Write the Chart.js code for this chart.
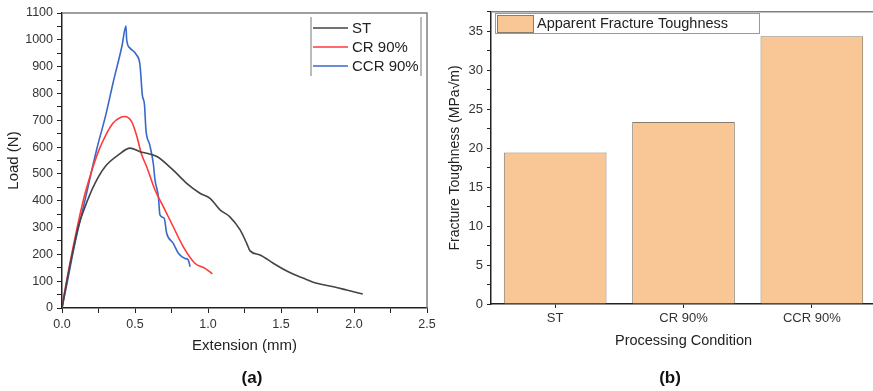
<!DOCTYPE html>
<html>
<head>
<meta charset="utf-8">
<script src="https://cdn.jsdelivr.net/npm/chart.js@4.4.1/dist/chart.umd.min.js"></script>
<style>
	html, body { margin: 0; padding: 0; background: #fff; }
	body { width: 873px; height: 391px; overflow: hidden; position: relative; font-family: "Liberation Sans", Arial, sans-serif; }
	.panel { position: absolute; top: 0; }
	.tag { position: absolute; transform: translate(-50%, -50%); font: bold 17px "Liberation Sans", Arial, sans-serif; color: #111; }
</style>
</head>
<body>
<div class="panel" style="left:0"><canvas id="chart-a" width="440" height="391"></canvas></div>
<div class="panel" style="left:440px"><canvas id="chart-b" width="438" height="391"></canvas></div>
<div class="tag" style="left:252px;top:378px">(a)</div>
<div class="tag" style="left:670px;top:378px">(b)</div>
<script>
// (a) load vs extension
const stExt   = [0, 0.03, 0.07, 0.112, 0.158, 0.226, 0.295, 0.386, 0.466, 0.534, 0.58, 0.65, 0.76, 0.854, 0.945, 1.014, 1.082, 1.15, 1.22, 1.265, 1.288, 1.356, 1.447, 1.55, 1.65, 1.745, 1.86, 1.95, 2.06];
const stLoad  = [0, 90, 200, 303, 378, 465, 527, 571, 596, 583, 577, 565, 515, 465, 428, 409, 366, 340, 291, 241, 213, 198, 167, 135, 112, 92, 79, 67, 52];
const crExt   = [0, 0.02, 0.10, 0.15, 0.20, 0.25, 0.30, 0.35, 0.40, 0.43, 0.477, 0.51, 0.546, 0.58, 0.637, 0.694, 0.762, 0.83, 0.91, 0.98, 1.03];
const crLoad  = [0, 67, 290, 410, 505, 585, 645, 690, 710, 714, 695, 645, 571, 527, 440, 378, 303, 229, 167, 148, 127];
const ccrExt  = [0, 0.03, 0.089, 0.158, 0.237, 0.30, 0.35, 0.41, 0.438, 0.443, 0.466, 0.51, 0.534, 0.55, 0.565, 0.575, 0.60, 0.625, 0.637, 0.66, 0.671, 0.70, 0.717, 0.762, 0.797, 0.842, 0.865, 0.877];
const ccrLoad = [0, 80, 242, 403, 590, 720, 840, 975, 1051, 1000, 969, 944, 907, 795, 757, 664, 610, 540, 478, 415, 347, 335, 279, 241, 204, 185, 179, 154];
const seriesNames  = ['ST', 'CR 90%', 'CCR 90%'];
const seriesColors = ['#444444', '#ff3a3a', '#3a68c8'];

// (b) apparent fracture toughness
const conditions = ['ST', 'CR 90%', 'CCR 90%'];
const toughness  = [19.45, 23.35, 34.35];

const FONT = '"Liberation Sans", Arial, sans-serif';
const TXT = '#333';

function pts(xs, ys){
	return xs.map(function(x, i){ return { x: x, y: ys[i] }; });
}

/** top + right frame of the plot box **/
const framePlugin = {
	id: 'frame',
	afterDatasetsDraw: function(chart){
		const a = chart.chartArea, ctx = chart.ctx;
		ctx.save();
		ctx.strokeStyle = '#808080';
		ctx.lineWidth = 1.5;
		ctx.beginPath();
		ctx.moveTo(a.left, a.top);
		ctx.lineTo(a.right, a.top);
		ctx.lineTo(a.right, a.bottom);
		ctx.stroke();
		ctx.restore();
	}
};

/** legend of (a), drawn inside the plot **/
const lineLegend = {
	id: 'lineLegend',
	afterDraw: function(chart){
		const ctx = chart.ctx;
		ctx.save();
		ctx.strokeStyle = '#777';
		ctx.lineWidth = 1;
		ctx.beginPath();
		ctx.moveTo(311, 17); ctx.lineTo(311, 76);
		ctx.moveTo(421, 17); ctx.lineTo(421, 76);
		ctx.stroke();
		ctx.font = '15px ' + FONT;
		ctx.textBaseline = 'middle';
		chart.data.datasets.forEach(function(ds, i){
			const y = 28 + i * 19;
			ctx.strokeStyle = ds.borderColor;
			ctx.lineWidth = 1.5;
			ctx.beginPath();
			ctx.moveTo(313, y); ctx.lineTo(348, y);
			ctx.stroke();
			ctx.fillStyle = '#222';
			ctx.fillText(ds.label, 352, y + 1);
		});
		ctx.restore();
	}
};

/** legend of (b) **/
const barLegend = {
	id: 'barLegend',
	afterDraw: function(chart){
		const ctx = chart.ctx, ds = chart.data.datasets[0];
		ctx.save();
		ctx.fillStyle = '#fff';
		ctx.fillRect(55, 13, 264, 20);
		ctx.strokeStyle = '#999';
		ctx.lineWidth = 1;
		ctx.strokeRect(55.5, 13.5, 264, 20);
		ctx.fillStyle = ds.backgroundColor;
		ctx.fillRect(57, 15, 36, 17);
		ctx.strokeStyle = ds.borderColor;
		ctx.strokeRect(57.5, 15.5, 36, 17);
		ctx.fillStyle = '#222';
		ctx.font = '14.5px ' + FONT;
		ctx.textBaseline = 'middle';
		ctx.fillText(ds.label, 97, 24);
		ctx.restore();
	}
};

new Chart(document.getElementById('chart-a'), {
	type: 'line',
	data: {
		datasets: [
			{ label: seriesNames[0], data: pts(stExt, stLoad), borderColor: seriesColors[0] },
			{ label: seriesNames[1], data: pts(crExt, crLoad), borderColor: seriesColors[1] },
			{ label: seriesNames[2], data: pts(ccrExt, ccrLoad), borderColor: seriesColors[2] }
		]
	},
	options: {
		responsive: false,
		animation: false,
		layout: { padding: { left: 5, top: 13, right: 13, bottom: 36 } },
		elements: { point: { radius: 0 }, line: { borderWidth: 1.6, cubicInterpolationMode: 'monotone' } },
		plugins: { legend: { display: false }, tooltip: { enabled: false } },
		scales: {
			x: {
				type: 'linear', min: 0, max: 2.5,
				afterFit: function(s){ s.height = 47; },
				border: { color: '#222', width: 1.5 },
				grid: { drawOnChartArea: false, tickLength: 5, color: '#222' },
				ticks: {
					stepSize: 0.25, padding: 4, color: TXT, font: { family: FONT, size: 12.5 },
					maxRotation: 0, autoSkip: false,
					callback: function(v){ return Math.abs(v * 2 - Math.round(v * 2)) < 1e-6 ? v.toFixed(1) : ''; }
				},
				title: { display: true, text: 'Extension (mm)', color: '#222', font: { family: FONT, size: 15 }, padding: { top: 0, bottom: 0 } }
			},
			y: {
				min: 0, max: 1100,
				afterFit: function(s){ s.width = 57; },
				border: { color: '#222', width: 1.5 },
				grid: { drawOnChartArea: false, tickLength: 5, color: '#222' },
				ticks: {
					stepSize: 50, padding: 4, color: TXT, font: { family: FONT, size: 12.5 }, autoSkip: false,
					callback: function(v){ return v % 100 === 0 ? String(v) : ''; }
				},
				title: { display: true, text: 'Load (N)', color: '#222', font: { family: FONT, size: 15 }, padding: { top: 0, bottom: 0 } }
			}
		}
	},
	plugins: [framePlugin, lineLegend]
});

new Chart(document.getElementById('chart-b'), {
	type: 'bar',
	data: {
		labels: conditions,
		datasets: [{
			label: 'Apparent Fracture Toughness',
			data: toughness,
			backgroundColor: '#f9c796',
			borderColor: '#8a7c6c',
			borderWidth: 1,
			categoryPercentage: 1,
			barPercentage: 0.8
		}]
	},
	options: {
		responsive: false,
		animation: false,
		layout: { padding: { left: 7, top: 7, right: 2, bottom: 41 } },
		plugins: { legend: { display: false }, tooltip: { enabled: false } },
		scales: {
			x: {
				afterFit: function(s){ s.height = 46; },
				border: { color: '#222', width: 1.5 },
				grid: { drawOnChartArea: false, offset: false, tickLength: 4, color: '#222' },
				ticks: { padding: 3, color: TXT, font: { family: FONT, size: 13 } },
				title: { display: true, text: 'Processing Condition', color: '#222', font: { family: FONT, size: 14.5 }, padding: { top: 0, bottom: 0 } }
			},
			y: {
				min: 0, max: 37.5,
				afterFit: function(s){ s.width = 44; },
				border: { color: '#222', width: 1.5 },
				grid: { drawOnChartArea: false, tickLength: 4, color: '#222' },
				ticks: {
					stepSize: 2.5, padding: 4, color: TXT, font: { family: FONT, size: 13 }, autoSkip: false,
					callback: function(v){ return v % 5 === 0 ? String(v) : ''; }
				},
				title: { display: true, text: 'Fracture Toughness (MPa√m)', color: '#222', font: { family: FONT, size: 14 }, padding: { top: 0, bottom: 0 } }
			}
		}
	},
	plugins: [framePlugin, barLegend]
});
</script>
</body>
</html>
